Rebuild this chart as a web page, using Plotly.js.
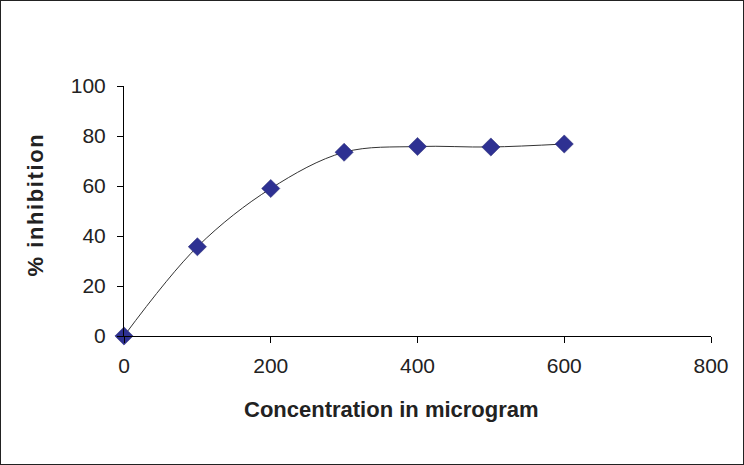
<!DOCTYPE html>
<html>
<head>
<meta charset="utf-8">
<script src="https://cdn.plot.ly/plotly-3.0.1.min.js"></script>
<style>
  html, body { margin: 0; padding: 0; background: #fff; }
  #wrap { width: 744px; height: 465px; box-sizing: border-box; border: 1px solid #222; position: relative; }
  #chart { position: absolute; left: -1px; top: -1px; width: 744px; height: 465px; }
</style>
</head>
<body>
<div id="wrap"><div id="chart"></div></div>
<script>
const concentration = [0, 100, 200, 300, 400, 500, 600];
const inhibition = [0, 35.7, 59, 73.5, 75.8, 75.6, 76.8];
const xTickVals = [0, 200, 400, 600, 800];
const yTickVals = [0, 20, 40, 60, 80, 100];
const xTitle = "Concentration in microgram";
const yTitle = "% inhibition";

const font = "Liberation Sans, Arial, sans-serif";

const trace = {
  x: concentration,
  y: inhibition,
  type: "scatter",
  mode: "lines+markers",
  line: { color: "#333333", width: 1, shape: "spline", smoothing: 1 },
  marker: { symbol: "diamond", size: 14, color: "#2E3192", line: { color: "#23256e", width: 0.5 } },
  cliponaxis: false,
  hoverinfo: "x+y"
};

const layout = {
  width: 744,
  height: 465,
  margin: { l: 124, r: 33, t: 86, b: 129 },
  paper_bgcolor: "rgba(0,0,0,0)",
  plot_bgcolor: "rgba(0,0,0,0)",
  showlegend: false,
  font: { family: font, color: "#222222", size: 21 },
  xaxis: {
    range: [0, 800],
    tickvals: xTickVals,
    ticktext: xTickVals.map(String),
    showgrid: false,
    zeroline: false,
    showline: true,
    linecolor: "#000000",
    linewidth: 1,
    ticks: "outside",
    ticklen: 6,
    tickcolor: "#000000",
    ticklabelstandoff: 5,
    tickfont: { family: font, size: 21, color: "#222222" }
  },
  yaxis: {
    range: [0, 100],
    tickvals: yTickVals,
    ticktext: yTickVals.map(String),
    showgrid: false,
    zeroline: false,
    showline: true,
    linecolor: "#000000",
    linewidth: 1,
    ticks: "outside",
    ticklen: 6,
    tickcolor: "#000000",
    ticklabelstandoff: 7,
    tickfont: { family: font, size: 21, color: "#222222" }
  },
  annotations: [
    {
      text: "<b>" + xTitle + "</b>",
      xref: "paper", yref: "paper",
      x: (391 - 124) / 587, y: -(409 - 336) / 250,
      xanchor: "center", yanchor: "middle",
      showarrow: false,
      font: { family: font, size: 22, color: "#222222" }
    },
    {
      text: "<b>" + yTitle + "</b>",
      xref: "paper", yref: "paper",
      x: -(124 - 35) / 587, y: (336 - 205) / 250,
      xanchor: "center", yanchor: "middle",
      textangle: -90,
      showarrow: false,
      font: { family: font, size: 22, color: "#222222" }
    }
  ]
};

Plotly.newPlot("chart", [trace], layout, { displayModeBar: false, staticPlot: true }).then(function (gd) {
  const texts = gd.querySelectorAll("g.annotation text.annotation-text");
  texts.forEach(function (t) {
    if (t.textContent.indexOf("inhibition") >= 0) {
      t.style.letterSpacing = "1.6px";
    }
  });
});
</script>
</body>
</html>
